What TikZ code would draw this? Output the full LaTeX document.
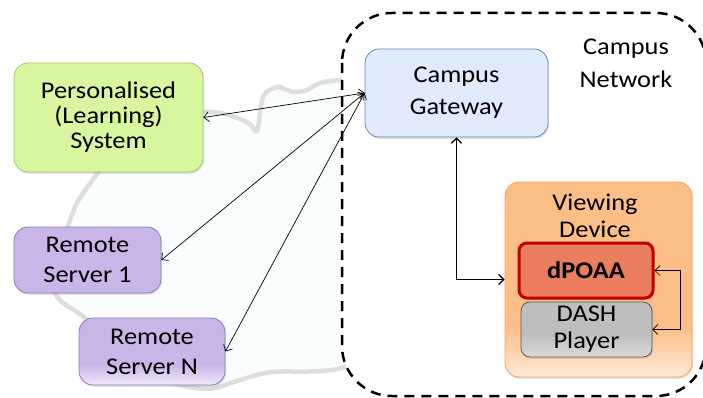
\documentclass[tikz,border=0pt]{standalone}
\usepackage{fontspec}
\setmainfont{Carlito}[FakeStretch=1.1]
\usetikzlibrary{arrows.meta,shadows}
\definecolor{greenfill}{RGB}{216,246,160}
\definecolor{greenline}{RGB}{165,200,105}
\definecolor{purplefill}{RGB}{201,182,232}
\definecolor{purplelight}{RGB}{240,234,249}
\definecolor{purpleline}{RGB}{140,118,190}
\definecolor{gwfill}{RGB}{223,234,251}
\definecolor{gwline}{RGB}{95,140,200}
\definecolor{orangefill}{RGB}{251,190,134}
\definecolor{orangelight}{RGB}{253,233,216}
\definecolor{orangeline}{RGB}{244,165,98}
\definecolor{dpfill}{RGB}{233,125,92}
\definecolor{dpline}{RGB}{192,0,0}
\definecolor{dashfill}{RGB}{190,190,190}
\definecolor{dashlight}{RGB}{218,218,218}
\definecolor{dashline}{RGB}{90,90,90}
\definecolor{cloudfill}{RGB}{249,253,254}
\definecolor{cloudline}{RGB}{222,222,222}
\pgfdeclareverticalshading{vdshade}{100bp}{color(0bp)=(orangelight); color(25bp)=(orangelight); color(38bp)=(orangefill); color(100bp)=(orangefill)}
\pgfdeclareverticalshading{rnshade}{100bp}{color(0bp)=(purplelight); color(25bp)=(purplelight); color(40bp)=(purplefill); color(100bp)=(purplefill)}
\pgfdeclareverticalshading{dashshade}{100bp}{color(0bp)=(dashlight); color(25bp)=(dashlight); color(45bp)=(dashfill); color(100bp)=(dashfill)}
\tikzset{
  box/.style={draw, rounded corners=14pt, line width=0.8pt, align=center,
    inner sep=0pt, drop shadow={shadow xshift=1.2pt, shadow yshift=-1.8pt, opacity=0.22}},
  txt/.style={font=\fontsize{24}{#1}\selectfont, align=center},
  conn/.style={line width=0.7pt, {Straight Barb[length=5pt,width=10pt]}-{Straight Barb[length=5pt,width=10pt]}},
}
\begin{document}
\begin{tikzpicture}[x=1pt,y=-1pt]
\useasboundingbox (0,0) rectangle (703,398);
\begin{scope}
\clip (0,0) rectangle (703,398);
% background cloud
\draw[cloudline, line width=4.5pt, fill=cloudfill, line join=round]
  plot[smooth cycle, tension=0.5] coordinates {
   (380,78) (340,80) (320,83) (307,90) (293,92) (277,87) (263,97) (257,131)
   (247,122) (212,112) (150,120) (110,158) (97,174) (77,203) (64,235)
   (45,265) (58,298) (80,314) (105,335) (150,375) (205,389) (240,380)
   (272,372) (345,367) (420,320) (420,150)};
% campus network
\draw[line width=2.5pt, dash pattern=on 10pt off 7pt, fill=white, rounded corners=50pt]
  (342,13) rectangle (706,396);
\end{scope}
\node[txt=33] (cnlabel) at (626,63) {Campus\\Network};

% left boxes
\node[box, fill=greenfill, draw=greenline, minimum width=189pt, minimum height=109pt,
  txt=25] (pls) at (108.5,117.5) {Personalised\\(Learning)\\System};
\node[box, fill=purplefill, draw=purpleline, minimum width=147pt, minimum height=66pt,
  txt=30] (rs1) at (87.5,260) {Remote\\Server 1};
\node[box, shading=rnshade, draw=purpleline, minimum width=146pt, minimum height=67pt,
  txt=30] (rsn) at (152,351.5) {Remote\\Server N};

% gateway
\node[box, fill=gwfill, draw=gwline, minimum width=183pt, minimum height=88pt,
  txt=32] (gw) at (456.5,93) {Campus\\Gateway};

% viewing device
\node[box, shading=vdshade, draw=orangeline, minimum width=187pt, minimum height=195pt] (vd) at (598.5,279.5) {};
\node[txt=27] (vdlabel) at (595,216) {Viewing\\Device};
\node[box, fill=dpfill, draw=dpline, line width=3pt, rounded corners=8pt,
  minimum width=134pt, minimum height=55pt, txt=25] (dp) at (586,270.5) {\textbf{dPOAA}};
\node[box, shading=dashshade, draw=dashline, rounded corners=9pt, minimum width=131pt, minimum height=55pt,
  txt=27] (dash) at (586.5,329.5) {DASH\\Player};

% connectors
\draw[conn] (pls.east) -- (gw.west);
\draw[conn] (rs1.east) -- (gw.west);
\draw[conn] (rsn.east) -- (gw.west);
\draw[conn, line width=1.3pt] (gw.south) |- (vd.west);
\coordinate (loop) at (680,270.5);
\draw[conn] (dp.east) -- (loop) |- (dash.east);
\end{tikzpicture}
\end{document}
